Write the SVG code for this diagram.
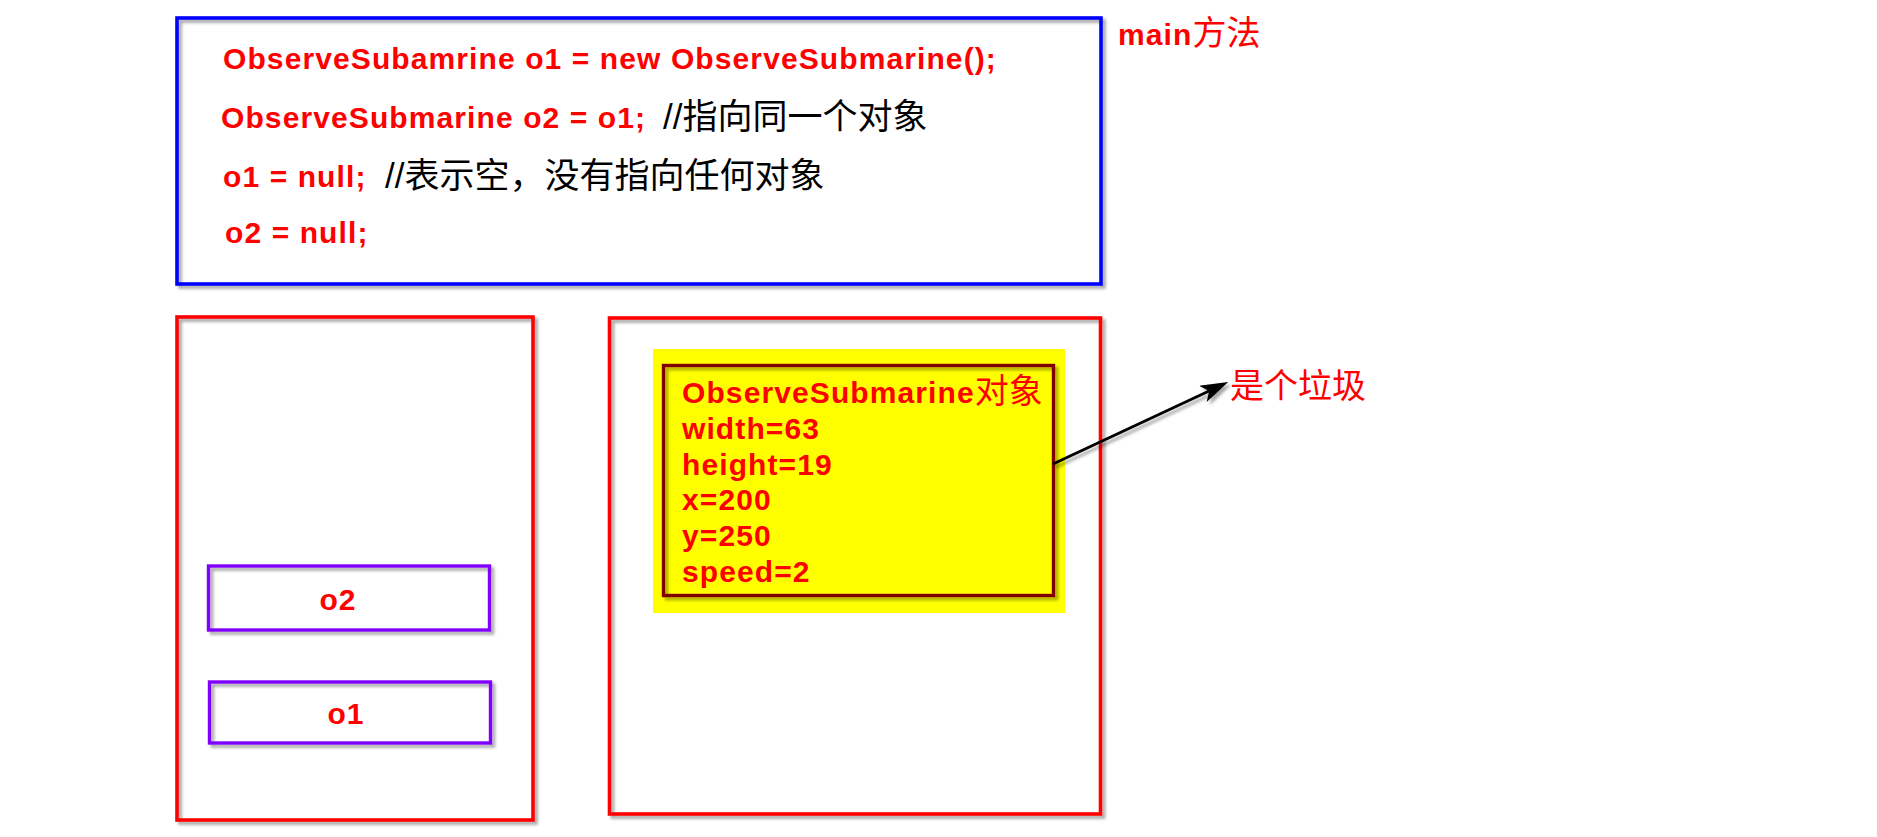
<svg xmlns="http://www.w3.org/2000/svg" width="1877" height="837" viewBox="0 0 1877 837">
  <style>
    .box { fill: none; }
    .red { stroke: #FF0000; stroke-width: 3.6; }
    .blue { stroke: #0000FF; stroke-width: 3.6; }
    .purple { stroke: #8000FF; stroke-width: 3.4; }
    .dred { stroke: #800000; stroke-width: 3.4; }
    .code { font-family: "Liberation Sans", Arial, sans-serif; font-weight: bold; font-size: 30px; letter-spacing: 1.1px; fill: #FF0000; }
    .cmt { font-family: "Liberation Sans", "Noto Sans CJK SC", sans-serif; font-weight: normal; font-size: 35px; letter-spacing: 0; fill: #000000; }
    .cjkred { font-family: "Noto Sans CJK SC", sans-serif; font-weight: normal; font-size: 34px; letter-spacing: 0; fill: #FF0000; }
  </style>
  <defs>
    <filter id="sh" x="-10%" y="-10%" width="120%" height="120%">
      <feDropShadow dx="3" dy="3" stdDeviation="1.5" flood-color="#000000" flood-opacity="0.35"/>
    </filter>
    <marker id="arr" markerUnits="userSpaceOnUse" viewBox="0 0 28 18" markerWidth="28" markerHeight="18" refX="14" refY="9" orient="auto">
      <path d="M0,0 L28,9 L0,18 L7,9 z" fill="#000000"/>
    </marker>
  </defs>
  <rect width="1877" height="837" fill="#FFFFFF"/>

  <g id="main-method">
    <rect class="box blue" x="177" y="18" width="924" height="266" filter="url(#sh)"/>
    <text class="code" x="223" y="69">ObserveSubamrine o1 = new ObserveSubmarine();</text>
    <text class="code" x="221" y="128">ObserveSubmarine o2 = o1;</text>
    <text class="cmt" x="663" y="129">//指向同一个对象</text>
    <text class="code" x="223" y="187">o1 = null;</text>
    <text class="cmt" x="385" y="188">//表示空，没有指向任何对象</text>
    <text class="code" x="225" y="243">o2 = null;</text>
  </g>

  <g id="main-label">
    <text class="code" x="1118" y="45">main<tspan class="cjkred">方法</tspan></text>
  </g>

  <g id="stack">
    <rect class="box red" x="177" y="317" width="356" height="503" filter="url(#sh)"/>
  </g>

  <g id="var-o2">
    <rect class="box purple" x="208.5" y="566" width="281" height="64" filter="url(#sh)"/>
    <text class="code" x="338" y="610" text-anchor="middle">o2</text>
  </g>

  <g id="var-o1">
    <rect class="box purple" x="209.5" y="682" width="281" height="61" filter="url(#sh)"/>
    <text class="code" x="346" y="724" text-anchor="middle">o1</text>
  </g>

  <g id="heap">
    <rect class="box red" x="609.5" y="318" width="491" height="496" filter="url(#sh)"/>
  </g>

  <g id="object">
    <rect x="653" y="349" width="412" height="264" fill="#FFFF00"/>
    <rect class="box dred" x="663.5" y="365.5" width="390" height="230" filter="url(#sh)"/>
    <text class="code" x="682" y="403">ObserveSubmarine<tspan class="cjkred" font-size="35">对象</tspan></text>
    <text class="code" x="682" y="438.8">width=63</text>
    <text class="code" x="682" y="474.6">height=19</text>
    <text class="code" x="682" y="510.4">x=200</text>
    <text class="code" x="682" y="546.2">y=250</text>
    <text class="code" x="682" y="582">speed=2</text>
  </g>

  <g id="garbage-label">
    <text class="cjkred" x="1230" y="398">是个垃圾</text>
  </g>

  <g id="connectors">
    <line x1="1053" y1="464" x2="1215.5" y2="388" stroke="#000000" stroke-width="3" marker-end="url(#arr)" filter="url(#sh)"/>
  </g>
</svg>
